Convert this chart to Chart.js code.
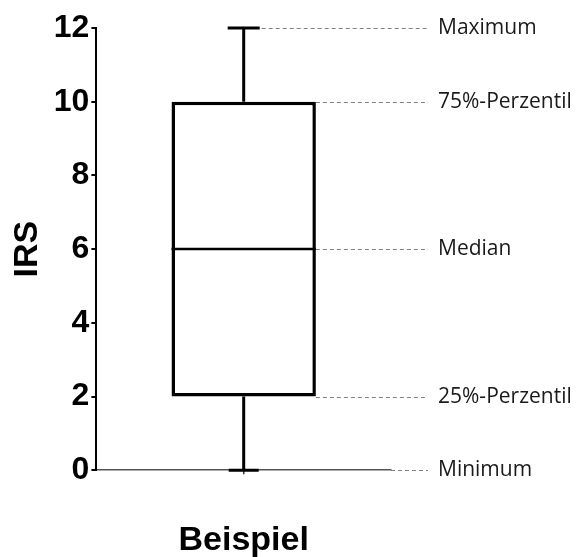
<!DOCTYPE html>
<html>
<head>
<meta charset="utf-8">
<script src="https://cdn.jsdelivr.net/npm/chart.js@4"></script>
<style>
  html, body { margin: 0; padding: 0; background: #fff; }
  #wrap { width: 579px; height: 557px; }
</style>
</head>
<body>
<div id="wrap"><canvas id="boxChart"></canvas></div>
<script>
const categories = ['Beispiel'];
const minimum = [0];
const q1 = [2];
const median = [6];
const q3 = [10];
const maximum = [12];
const markerLabels = ['Maximum', '75%-Perzentil', 'Median', '25%-Perzentil', 'Minimum'];
const yTicks = [0, 2, 4, 6, 8, 10, 12];

const boldFont = "'Liberation Sans', Arial, sans-serif";

// whiskers, median and the explanation labels on the right
const boxExtras = {
    id: 'boxExtras',
    afterDatasetsDraw(chart) {
        const ctx = chart.ctx;
        const y = chart.scales.y;
        const area = chart.chartArea;
        const bar = chart.getDatasetMeta(0).data[0];
        const cx = bar.x;
        const half = bar.width / 2;
        const i = 0;

        ctx.save();
        ctx.strokeStyle = '#000';
        ctx.lineCap = 'butt';

        // whiskers
        ctx.lineWidth = 3;
        ctx.beginPath();
        ctx.moveTo(cx, y.getPixelForValue(q3[i]));
        ctx.lineTo(cx, y.getPixelForValue(maximum[i]));
        ctx.moveTo(cx, y.getPixelForValue(q1[i]));
        ctx.lineTo(cx, y.getPixelForValue(minimum[i]));
        ctx.stroke();

        // caps
        ctx.beginPath();
        ctx.moveTo(cx - 16, y.getPixelForValue(maximum[i]));
        ctx.lineTo(cx + 16, y.getPixelForValue(maximum[i]));
        ctx.moveTo(cx - 15, y.getPixelForValue(minimum[i]));
        ctx.lineTo(cx + 15, y.getPixelForValue(minimum[i]));
        ctx.stroke();

        // median
        ctx.lineWidth = 2.5;
        ctx.beginPath();
        ctx.moveTo(cx - half, y.getPixelForValue(median[i]));
        ctx.lineTo(cx + half, y.getPixelForValue(median[i]));
        ctx.stroke();

        // leader lines + labels
        const values = [maximum[i], q3[i], median[i], q1[i], minimum[i]];
        const starts = [cx + 18, cx + half, cx + half, cx + half, area.right];
        const endX = area.right + 37;
        ctx.strokeStyle = '#808080';
        ctx.lineWidth = 1;
        ctx.setLineDash([4, 3]);
        ctx.font = "21px 'Open Sans', sans-serif";
        ctx.fillStyle = '#1a1a1a';
        ctx.textBaseline = 'middle';
        ctx.textAlign = 'left';
        values.forEach((v, k) => {
            const py = Math.round(y.getPixelForValue(v)) + 0.5;
            ctx.beginPath();
            ctx.moveTo(starts[k], py);
            ctx.lineTo(endX, py);
            ctx.stroke();
            ctx.fillText(markerLabels[k], area.right + 47, py);
        });
        ctx.restore();
    }
};

const ctx = document.getElementById('boxChart').getContext('2d');
const chart = new Chart(ctx, {
    type: 'bar',
    data: {
        labels: categories,
        datasets: [{
            label: 'IRS',
            data: q1.map((v, i) => [v, q3[i]]),
            backgroundColor: '#fff',
            borderColor: '#000',
            borderWidth: 3.5,
            borderSkipped: false,
            categoryPercentage: 1,
            barPercentage: 0.49
        }]
    },
    options: {
        responsive: true,
        maintainAspectRatio: false,
        animation: false,
        layout: {
            padding: { top: 28, right: 188, bottom: -50, left: 7 }
        },
        plugins: {
            legend: { display: false },
            tooltip: { enabled: false }
        },
        scales: {
            x: {
                grid: {
                    drawOnChartArea: false,
                    drawTicks: true,
                    tickLength: 4,
                    offset: false,
                    color: '#333',
                    lineWidth: 1.5
                },
                border: { color: '#555', width: 1.5 },
                ticks: {
                    color: '#000',
                    padding: 46,
                    font: { family: boldFont, size: 34, weight: 'bold' }
                }
            },
            y: {
                min: 0,
                max: 12,
                afterBuildTicks: (axis) => {
                    axis.ticks = yTicks.map(v => ({ value: v }));
                },
                grid: {
                    drawOnChartArea: false,
                    drawTicks: true,
                    tickLength: 5,
                    color: '#000',
                    lineWidth: 2
                },
                border: { color: '#000', width: 2 },
                ticks: {
                    color: '#000',
                    padding: 2,
                    font: { family: boldFont, size: 32, weight: 'bold' }
                },
                title: {
                    display: true,
                    text: 'IRS',
                    color: '#000',
                    padding: { top: 0, bottom: 4 },
                    font: { family: boldFont, size: 34, weight: 'bold' }
                }
            }
        }
    },
    plugins: [boxExtras]
});
</script>
</body>
</html>
